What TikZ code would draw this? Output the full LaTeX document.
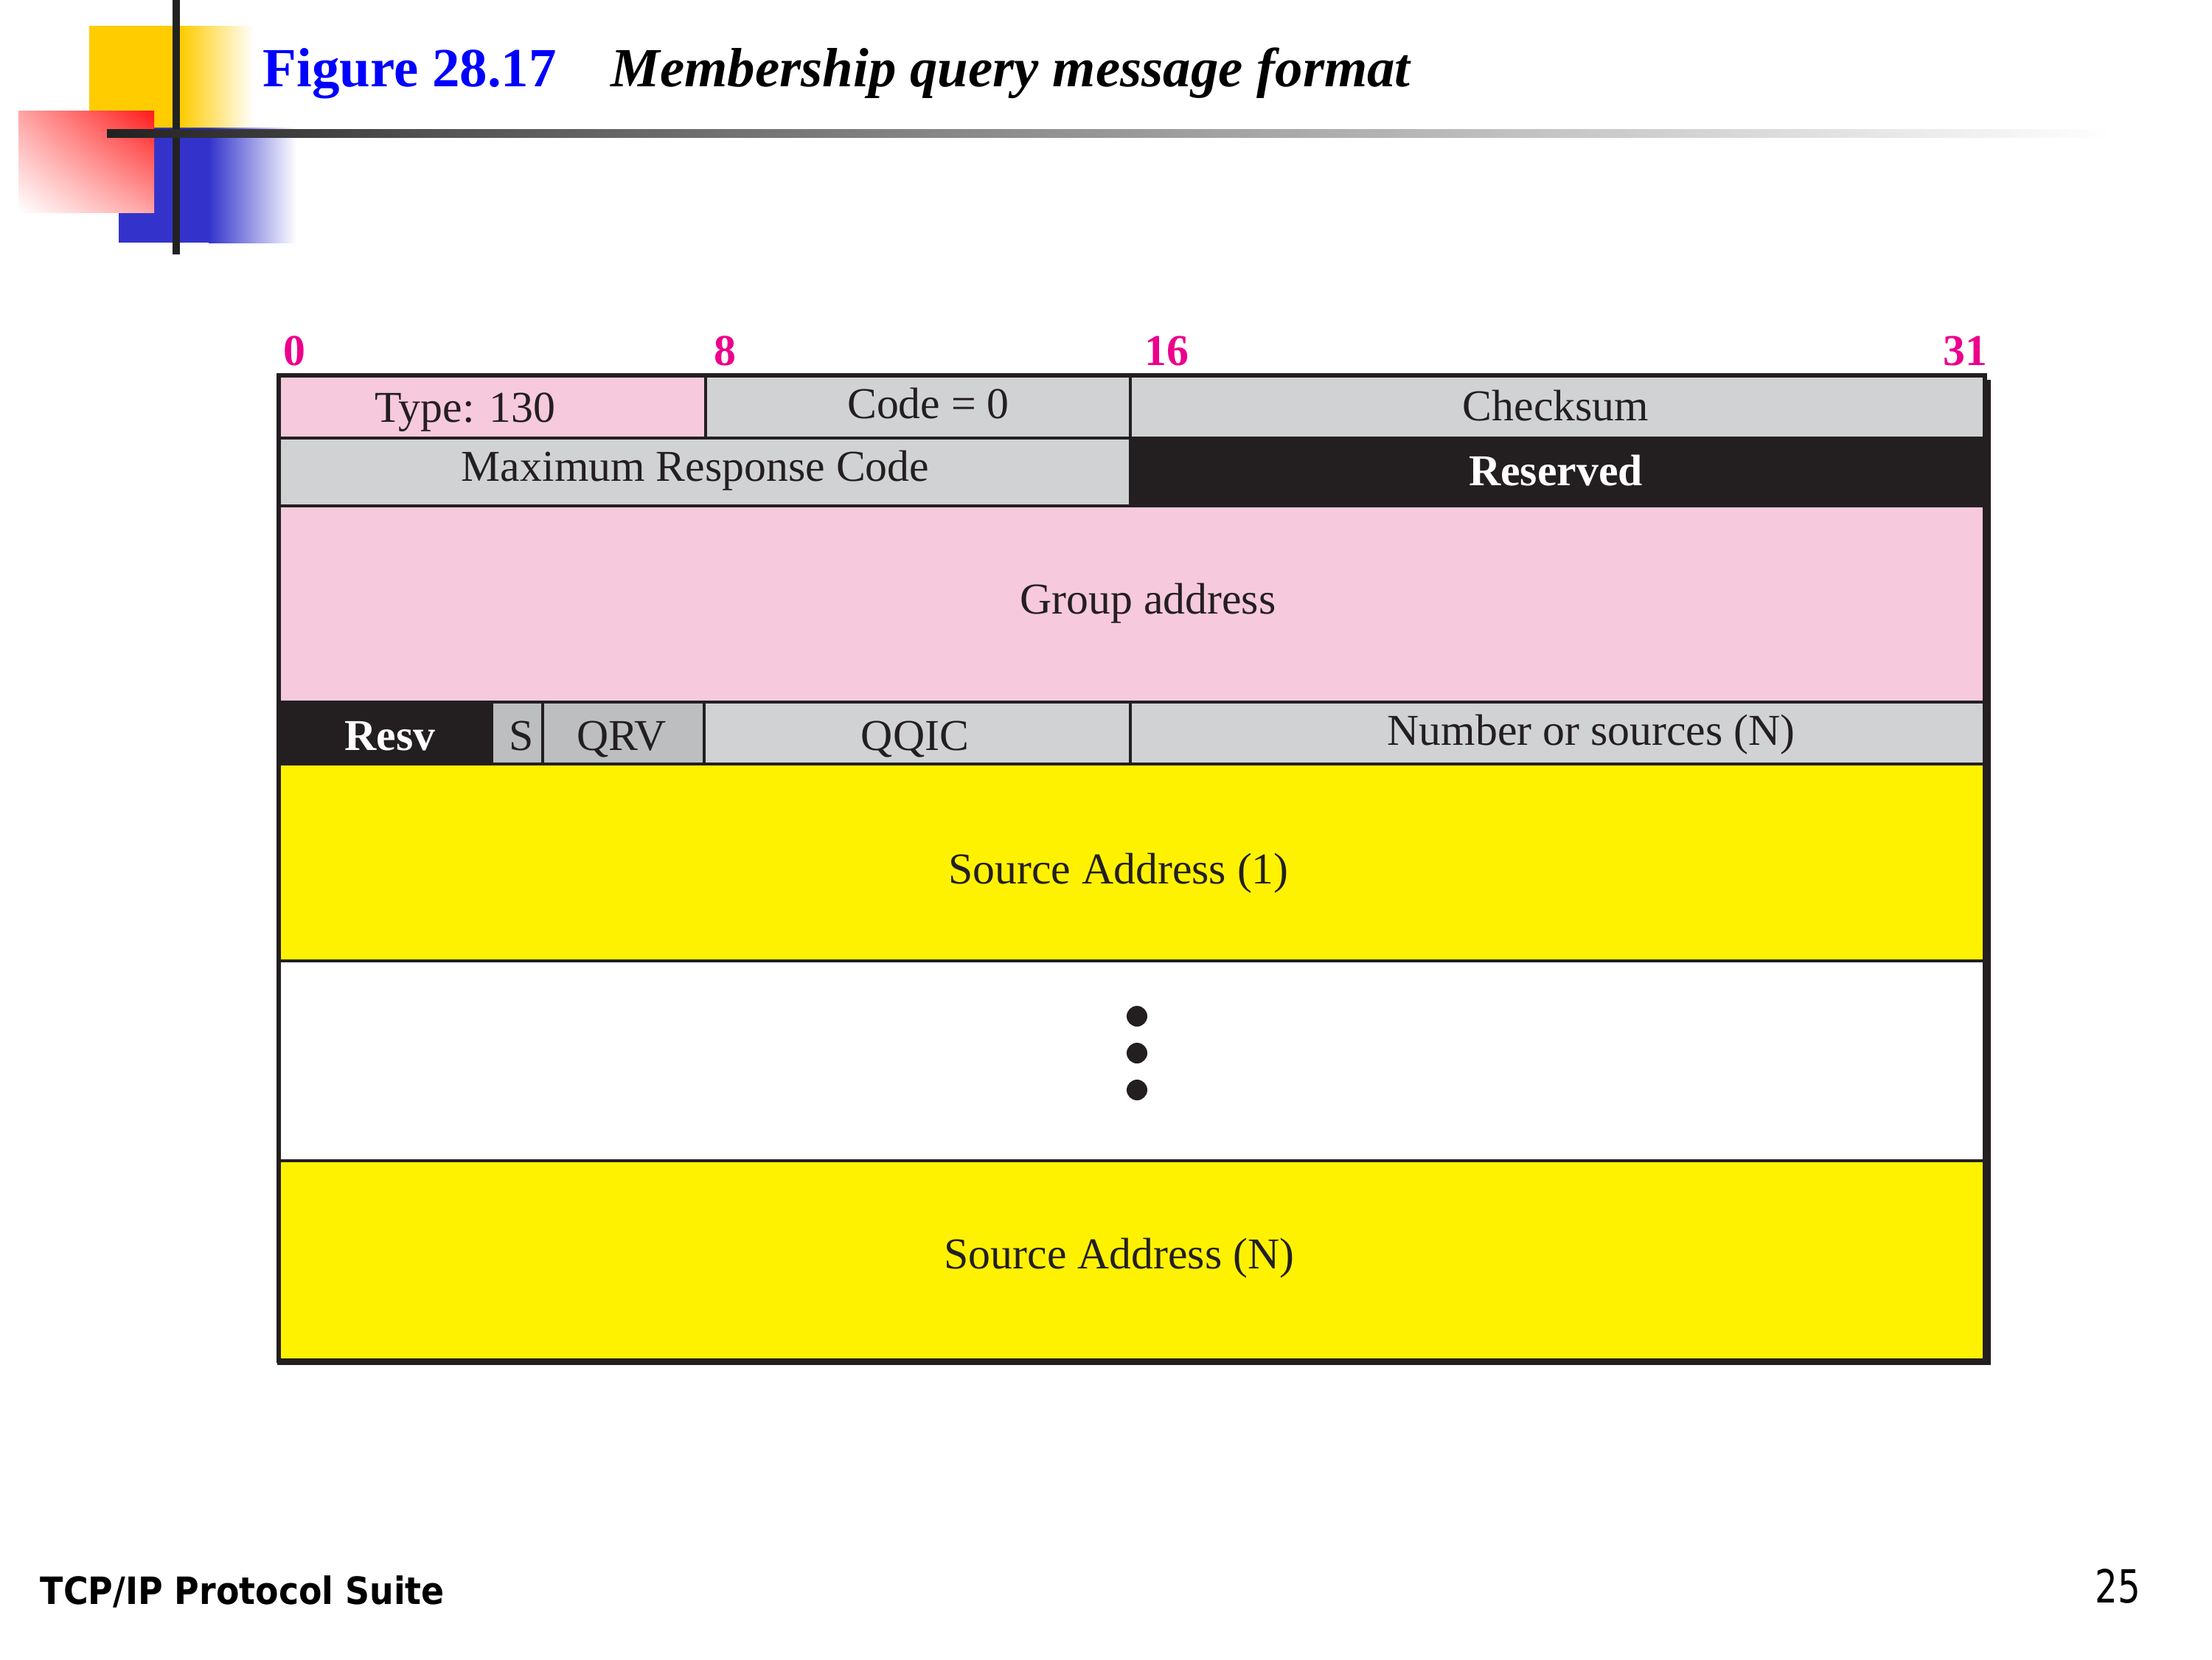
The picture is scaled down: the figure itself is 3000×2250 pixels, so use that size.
\documentclass[tikz,border=0pt]{standalone}
\usepackage{xcolor}
\usepackage{fontspec}
\setmainfont{Liberation Serif}
\newfontfamily\footfont[FakeStretch=0.9]{DejaVu Sans}
\newfontfamily\pagenumfont[FakeStretch=0.78]{DejaVu Sans}
\usepackage{tikz}
\usetikzlibrary{calc}
\usetikzlibrary{shadings}

\definecolor{fieldpink}{HTML}{F7C9DD}
\definecolor{fieldgray}{HTML}{D1D2D4}
\definecolor{fielddark}{HTML}{BCBEC0}
\definecolor{fieldblack}{HTML}{231F20}
\definecolor{fieldyellow}{HTML}{FFF200}
\definecolor{bitmagenta}{HTML}{EC008C}
\definecolor{decoyellow}{HTML}{FFCC00}
\definecolor{decoblue}{HTML}{3333CC}
\definecolor{decored}{HTML}{FF1A1A}
\definecolor{rulegray}{HTML}{222222}

\begin{document}
\begin{tikzpicture}[x=0.01cm,y=-0.01cm,
    txt/.style={inner sep=0pt,anchor=base,text=fieldblack,font=\fontsize{17}{20}\selectfont},
    whitetxt/.style={inner sep=0pt,anchor=base,text=white,font=\fontsize{17}{20}\selectfont\bfseries},
    bit/.style={inner sep=0pt,text=bitmagenta,font=\fontsize{17}{20}\selectfont\bfseries},
    cell/.style={draw=fieldblack,line width=0.9pt}]
      \useasboundingbox (0,0) rectangle (3000,2250);

      \fill[decoyellow] (121,35) rectangle (246,173);
      \shade[left color=decoyellow,right color=white] (245,35) rectangle (344,173);
      \fill[decoblue] (161,173) rectangle (284,329);
      \shade[left color=decoblue,right color=white] (283,173) rectangle (402,329);
      \shade[upper right=decored,lower left=white,upper left=decored!40,lower right=decored!40]
        (25,150) rectangle (209,288);
      \fill[rulegray] (234,0) rectangle (244,345);
      \shade[left color=rulegray,right color=black!67] (145,175) rectangle (601,186);
      \shade[left color=black!67,right color=black!35] (600,175) rectangle (1701,186);
      \shade[left color=black!35,right color=white] (1700,175) rectangle (2864,186);

      \node[anchor=base west,inner sep=0pt,text=blue,font=\fontsize{21.3}{25}\selectfont\bfseries]
        (fignum) at (356,117) {Figure 28.17};
      \node[anchor=base west,inner sep=0pt,font=\fontsize{21.3}{25}\selectfont\bfseries\itshape]
        (figtitle) at (828,117) {Membership query message format};

      \coordinate (nw) at (378,509);
      \coordinate (se) at (2692,1845);

      \filldraw[cell,fill=fieldpink] (nw) rectangle (957,594);
      \filldraw[cell,fill=fieldgray] (957,509) rectangle (1533,594);
      \filldraw[cell,fill=fieldgray] (1533,509) rectangle (2692,594);
      \filldraw[cell,fill=fieldgray] (378,594) rectangle (1533,686);
      \filldraw[cell,fill=fieldblack] (1533,594) rectangle (2692,686);
      \filldraw[cell,fill=fieldpink] (378,686) rectangle (2692,952);
      \filldraw[cell,fill=fieldblack] (378,952) rectangle (667,1036);
      \filldraw[cell,fill=fielddark] (667,952) rectangle (736,1036);
      \filldraw[cell,fill=fielddark] (736,952) rectangle (955,1036);
      \filldraw[cell,fill=fieldgray] (955,952) rectangle (1533,1036);
      \filldraw[cell,fill=fieldgray] (1533,952) rectangle (2692,1036);
      \filldraw[cell,fill=fieldyellow] (378,1036) rectangle (2692,1303);
      \filldraw[cell,fill=white] (378,1303) rectangle (2692,1574);
      \filldraw[cell,fill=fieldyellow] (378,1574) rectangle (se);

      \draw[fieldblack,line width=1.6pt] (nw) rectangle (se);
      \draw[fieldblack,line width=3pt] (2695,515) -- (2695,1849);
      \draw[fieldblack,line width=2pt] (376,1847) -- (2700,1847);

      \fill[fieldblack] (1542,1378) circle (0.14cm);
      \fill[fieldblack] (1542,1428) circle (0.14cm);
      \fill[fieldblack] (1542,1478) circle (0.14cm);

      \node[bit,anchor=base west] (b0) at (384,495) {0};
      \node[bit,anchor=base west] (b8) at (968,495) {8};
      \node[bit,anchor=base west] (b16) at (1552,495) {16};
      \node[bit,anchor=base east] (b31) at (2696,495) {31};

      \node[txt] (type) at (631,572) {Type: 130};
      \node[txt] (code) at (1259,567) {Code = 0};
      \node[txt] (cksum) at (2110,570) {Checksum};
      \node[txt] (maxresp) at (943,652) {Maximum Response Code};
      \node[whitetxt] (rsvd) at (2110,658) {Reserved};
      \node[txt] (group) at (1557,832) {Group address};
      \node[whitetxt] (resv) at (529,1017) {Resv};
      \node[txt] (sflag) at (707,1017) {S};
      \node[txt] (qrv) at (843,1017) {QRV};
      \node[txt] (qqic) at (1241,1017) {QQIC};
      \node[txt] (nsrc) at (2158,1010) {Number or sources (N)};
      \node[txt] (src1) at (1517,1198) {Source Address (1)};
      \node[txt] (srcn) at (1518,1720) {Source Address (N)};

      \node[anchor=base west,inner sep=0pt,font=\footfont\fontsize{14.5}{17}\selectfont\bfseries]
        (suite) at (54,2175) {TCP/IP Protocol Suite};
      \node[anchor=base,inner sep=0pt,font=\pagenumfont\fontsize{17.6}{20}\selectfont]
        (page) at (2872,2173) {25};
    \end{tikzpicture}
\end{document}
